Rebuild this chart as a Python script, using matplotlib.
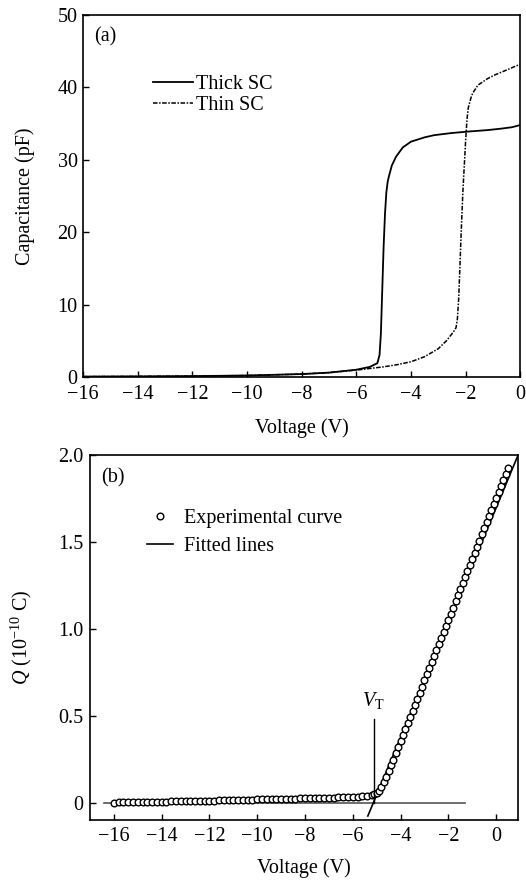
import matplotlib
matplotlib.use("Agg")
import matplotlib.pyplot as plt
import numpy as np

plt.rcParams["font.family"] = ["Liberation Serif", "DejaVu Serif"]
plt.rcParams["mathtext.fontset"] = "custom"
plt.rcParams["mathtext.rm"] = "Liberation Serif"
plt.rcParams["mathtext.it"] = "Liberation Serif:italic"
plt.rcParams["font.size"] = 14.5

# (a) C-V curves
thick_v = [-16, -14, -12, -10, -8, -7, -6, -5.5, -5.23, -5.15, -5.1, -5.05, -5.0,
           -4.95, -4.9, -4.85, -4.8, -4.7, -4.55, -4.3, -4.0, -3.5, -3.15, -2.5,
           -1.9, -1.2, -0.7, -0.3, 0.0]
thick_c = [0.05, 0.08, 0.12, 0.2, 0.4, 0.6, 1.0, 1.4, 1.9, 3.0, 6.0, 12.0, 18.0,
           22.5, 25.5, 27.0, 27.8, 29.2, 30.4, 31.7, 32.5, 33.1, 33.4, 33.7,
           33.9, 34.1, 34.3, 34.5, 34.8]
thin_v = [-16, -14, -12, -10, -8, -7, -6, -5.0, -4.5, -4.0, -3.5, -3.0, -2.7,
          -2.45, -2.35, -2.3, -2.25, -2.2, -2.15, -2.1, -2.05, -2.0, -1.95,
          -1.9, -1.8, -1.74, -1.55, -1.2, -0.94, -0.5, 0.0]
thin_c = [0.05, 0.08, 0.12, 0.2, 0.4, 0.6, 0.95, 1.4, 1.7, 2.1, 2.8, 3.9, 5.0,
          6.2, 6.8, 8.0, 11.0, 16.0, 21.0, 25.5, 29.0, 32.5, 35.5, 37.2, 38.6,
          39.2, 40.3, 41.2, 41.7, 42.4, 43.2]

# (b) Q-V curve, experimental
q_v_low = [-16.0, -15.8, -15.6, -15.4, -15.2, -15.0, -14.8, -14.6, -14.4, -14.2,
           -14.0, -13.8, -13.6, -13.4, -13.2, -13.0, -12.8, -12.6, -12.4, -12.2,
           -12.0, -11.8, -11.6, -11.4, -11.2, -11.0, -10.8, -10.6, -10.4, -10.2,
           -10.0, -9.8, -9.6, -9.4, -9.2, -9.0, -8.8, -8.6, -8.4, -8.2,
           -8.0, -7.8, -7.6, -7.4, -7.2, -7.0, -6.8, -6.6, -6.4, -6.2,
           -6.0, -5.8, -5.6, -5.4, -5.2, -5.1]
q_low = [0.000, 0.001, 0.001, 0.002, 0.002, 0.003, 0.004, 0.004, 0.005, 0.005,
         0.006, 0.006, 0.007, 0.008, 0.008, 0.009, 0.009, 0.010, 0.011, 0.011,
         0.012, 0.012, 0.013, 0.014, 0.014, 0.015, 0.016, 0.016, 0.017, 0.017,
         0.018, 0.019, 0.019, 0.020, 0.021, 0.021, 0.022, 0.023, 0.023, 0.024,
         0.025, 0.025, 0.026, 0.027, 0.028, 0.028, 0.029, 0.030, 0.031, 0.032,
         0.033, 0.035, 0.037, 0.040, 0.044, 0.048]
q_v_high = [-5.0, -4.9, -4.8, -4.7, -4.6, -4.5, -4.4, -4.3, -4.2, -4.1,
            -4.0, -3.9, -3.8, -3.7, -3.6, -3.5, -3.4, -3.3, -3.2, -3.1,
            -3.0, -2.9, -2.8, -2.7, -2.6, -2.5, -2.4, -2.3, -2.2, -2.1,
            -2.0, -1.9, -1.8, -1.7, -1.6, -1.5, -1.4, -1.3, -1.2, -1.1,
            -1.0, -0.9, -0.8, -0.7, -0.6, -0.5, -0.4, -0.3, -0.2, -0.1,
            0.0, 0.1, 0.2, 0.3, 0.4, 0.5]
q_high = [0.055, 0.068, 0.090, 0.118, 0.150, 0.182, 0.215, 0.248, 0.283, 0.318,
          0.352, 0.388, 0.423, 0.457, 0.493, 0.528, 0.562, 0.598, 0.633, 0.667,
          0.703, 0.738, 0.772, 0.808, 0.843, 0.877, 0.913, 0.948, 0.982, 1.018,
          1.053, 1.088, 1.122, 1.158, 1.193, 1.228, 1.262, 1.298, 1.333, 1.367,
          1.403, 1.438, 1.472, 1.508, 1.543, 1.578, 1.612, 1.648, 1.683, 1.717,
          1.753, 1.788, 1.822, 1.858, 1.893, 1.928]

# fitted lines
fit_flat_v = [-16.4, -1.3]
fit_flat_q = [0.0, 0.0]
fit_steep_v = [-5.37, 0.92]
fit_steep_q = [-0.077, 2.0]
v_t = -5.12

x_ticks = [-16, -14, -12, -10, -8, -6, -4, -2, 0]
x_labels = ["\u221216", "\u221214", "\u221212", "\u221210", "\u22128",
            "\u22126", "\u22124", "\u22122", "0"]

fig = plt.figure(figsize=(5.26, 8.82), dpi=100)

ax1 = fig.add_axes([0.158, 0.5726, 0.831, 0.4104])
ax1.plot(thick_v, thick_c, color="black", lw=1.3, label="Thick SC")
ax1.plot(thin_v, thin_c, color="black", lw=1.1, ls=(0, (3, 1, 1, 1)),
         label="Thin SC")
ax1.set_xlim(-16, 0)
ax1.set_ylim(0, 50)
ax1.set_xticks(x_ticks)
ax1.set_xticklabels(x_labels)
ax1.set_yticks([0, 10, 20, 30, 40, 50])
ax1.tick_params(direction="in", length=4, width=1, top=False, right=False)
ax1.tick_params(axis="x", pad=6)
ax1.tick_params(axis="y", pad=4)
ax1.set_xlabel("Voltage (V)", labelpad=10)
ax1.set_ylabel("Capacitance (pF)", labelpad=16)
ax1.text(0.025, 0.965, "(a)", transform=ax1.transAxes, va="top", ha="left")
ax1.legend(loc="upper left", bbox_to_anchor=(0.137, 0.862), frameon=False,
           handlelength=2.0, handletextpad=0.15, labelspacing=0.1,
           borderpad=0)
for s in ax1.spines.values():
    s.set_linewidth(1.2)

ax2 = fig.add_axes([0.171, 0.0703, 0.814, 0.4138])
ax2.plot(fit_flat_v, fit_flat_q, color="#555555", lw=1.2)
ax2.plot(fit_steep_v, fit_steep_q, color="black", lw=1.2, label="Fitted lines")
ax2.plot(q_v_low + q_v_high, q_low + q_high, ls="none", marker="o", ms=4.8,
         mfc="white", mec="black", mew=1.0, label="Experimental curve")
ax2.plot([v_t, v_t], [0.0, 0.48], color="black", lw=1.0)
ax2.text(v_t, 0.53, "$V_{\\rm T}$", ha="center", va="bottom")
ax2.set_xlim(-17, 0.92)
ax2.set_ylim(-0.1, 2.0)
ax2.set_xticks(x_ticks)
ax2.set_xticklabels(x_labels)
ax2.set_yticks([0, 0.5, 1.0, 1.5, 2.0])
ax2.set_yticklabels(["0", "0.5", "1.0", "1.5", "2.0"])
ax2.tick_params(direction="in", length=4, width=1, top=False, right=False, pad=5)
ax2.set_xlabel("Voltage (V)", labelpad=9)
ax2.set_ylabel("$Q$ (10$^{-10}$ C)", labelpad=17)
ax2.text(0.025, 0.965, "(b)", transform=ax2.transAxes, va="top", ha="left")
h, l = ax2.get_legend_handles_labels()
ax2.legend([h[1], h[0]], [l[1], l[0]], loc="upper left",
           bbox_to_anchor=(0.11, 0.88), frameon=False, handlelength=1.3,
           handletextpad=0.55, labelspacing=0.45, borderpad=0)
for s in ax2.spines.values():
    s.set_linewidth(1.2)

fig.savefig("out.png", dpi=100)
